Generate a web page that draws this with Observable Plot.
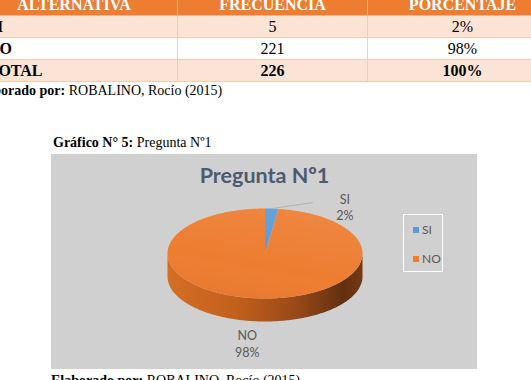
<!DOCTYPE html>
<html><head><meta charset="utf-8">
<script src="https://cdn.jsdelivr.net/npm/d3@7"></script>
<script src="https://cdn.jsdelivr.net/npm/@observablehq/plot@0.6"></script>
<style>
body{margin:0;background:#fff;}
#page{position:relative;width:531px;height:380px;overflow:hidden;font-family:"Liberation Serif","Times New Roman",serif;color:#000;}
#tbl{position:absolute;left:-30px;top:-11px;width:587px;border-collapse:collapse;table-layout:fixed;}
#tbl th{background:#ED7D31;color:#fff;font-size:16px;font-weight:bold;height:25px;line-height:20px;vertical-align:bottom;padding:0;border:1px solid #F4B183;}
#tbl td{height:21px;line-height:21px;font-size:16px;text-align:center;padding:0;border:1px solid #F8CBAD;}
#tbl tr.odd td{background:#FBE4D5;}
#tbl tr.even td{background:#fff;}
#tbl td.first{text-align:left;padding-left:17px;font-weight:bold;}
#tbl tr.total td{font-weight:bold;}
.cap{position:absolute;font-size:14px;white-space:nowrap;}
#chart{position:absolute;left:51px;top:154px;width:426px;height:215px;}
#legend{position:absolute;left:403px;top:214px;width:38px;height:56px;border:1.5px solid #fff;font-family:Lato,"Open Sans",sans-serif;font-size:12px;color:#595959;}
#legend .it{position:absolute;left:9px;display:flex;align-items:center;}
#legend .sw{width:6px;height:6px;margin-right:3px;}
</style></head>
<body><div id="page">
<table id="tbl"></table>
<div class="cap" style="left:-27px;top:83px;"><b>Elaborado por:</b> ROBALINO, Rocío (2015)</div>
<div class="cap" style="left:53px;top:135px;"><b>Gráfico N° 5:</b> Pregunta Nº1</div>
<div id="chart"></div>
<div id="legend"></div>
<div class="cap" style="left:51px;top:373px;"><b>Elaborado por:</b> ROBALINO, Rocío (2015)</div>
</div>
<script>
// ---- data ----
const headers = ["ALTERNATIVA", "FRECUENCIA", "PORCENTAJE"];
const categories = ["SI", "NO"];
const frequencies = [5, 221];
const percents = ["2%", "98%"];
const totalLabel = ["TOTAL", "226", "100%"];
const colors = ["#5B9BD5", "#ED7D31"];
const chartTitle = "Pregunta Nº1";

// ---- table ----
const tbl = d3.select("#tbl");
const cg = tbl.append("colgroup");
[207, 190, 190].forEach(w => cg.append("col").style("width", w + "px"));
tbl.append("tr").selectAll("th").data(headers).join("th").text(d => d);
categories.forEach((c, i) => {
  const tr = tbl.append("tr").attr("class", i % 2 === 0 ? "odd" : "even");
  tr.append("td").attr("class", "first").text(c);
  tr.append("td").text(frequencies[i]);
  tr.append("td").text(percents[i]);
});
const trT = tbl.append("tr").attr("class", "odd total");
totalLabel.forEach((t, i) => trT.append("td").attr("class", i === 0 ? "first" : null).text(t));

// ---- legend ----
const lg = d3.select("#legend");
categories.forEach((c, i) => {
  const it = lg.append("div").attr("class", "it").style("top", (i === 0 ? 7 : 36) + "px");
  it.append("div").attr("class", "sw").style("background", colors[i]);
  it.append("span").text(c);
});

// ---- pie geometry ----
const W = 426, H = 215, cx = 213.5, cy = 99, rx = 97.5, ry = 45, depthPx = 23;
const depth = depthPx / ry;
const rows = categories.map((c, i) => ({cat: c, freq: frequencies[i], pct: percents[i]}));
const arcs = d3.pie().sort(null).value(d => d.freq)(rows);
const step = Math.PI / 180;

function arcPoints(a0, a1, off) {
  const pts = [];
  const n = Math.max(2, Math.ceil((a1 - a0) / step));
  for (let k = 0; k <= n; k++) {
    const a = a0 + (a1 - a0) * k / n;
    pts.push({x: Math.sin(a), y: Math.cos(a) - off});
  }
  return pts;
}

const topPts = [];
arcs.forEach(a => {
  topPts.push({cat: a.data.cat, x: 0, y: 0});
  arcPoints(a.startAngle, a.endAngle, 0).forEach(p => topPts.push({cat: a.data.cat, ...p}));
});

const sidePts = [];
arcs.forEach(a => {
  const s = Math.max(a.startAngle, Math.PI / 2), e = Math.min(a.endAngle, 3 * Math.PI / 2);
  if (e <= s) return;
  const upper = arcPoints(s, e, 0), lower = arcPoints(s, e, depth).reverse();
  [...upper, ...lower].forEach(p => sidePts.push({cat: a.data.cat, ...p}));
});

const ellipsePts = arcPoints(0, 2 * Math.PI, 0);

const labels = arcs.map(a => {
  const m = (a.startAngle + a.endAngle) / 2;
  return {cat: a.data.cat, text: a.data.cat + "\n" + a.data.pct, x: Math.sin(m), y: Math.cos(m)};
});
const leader = labels.filter(d => d.cat === "SI").map(d => ({
  x1: d.x, y1: d.y, x2: d.x + 41 / rx, y2: d.y + 6 / ry
}));

const plot = Plot.plot({
  width: W, height: H,
  margin: 0,
  style: {background: "#D0D0D0", fontFamily: "Lato, 'Open Sans', sans-serif", overflow: "visible"},
  x: {domain: [-cx / rx, (W - cx) / rx], range: [0, W], axis: null},
  y: {domain: [-(H - cy) / ry, cy / ry], range: [H, 0], axis: null},
  color: {domain: categories, range: colors},
  marks: [
    Plot.line(sidePts, {x: "x", y: "y", z: "cat", fill: "url(#sideGrad)", stroke: "none"}),
    Plot.line(topPts, {x: "x", y: "y", z: "cat", fill: "cat", stroke: "none"}),
    Plot.line(ellipsePts, {x: "x", y: "y", fill: "url(#topShade)", stroke: "none"}),
    Plot.link(leader, {x1: "x1", y1: "y1", x2: "x2", y2: "y2", stroke: "#A8A8A8", strokeWidth: 0.8}),
    Plot.text(labels.filter(d => d.cat === "SI"), {x: "x", y: "y", text: "text", dx: 73, dy: -2, fill: "#595959", fontSize: 12.5, lineHeight: 1.35}),
    Plot.text(labels.filter(d => d.cat === "NO"), {x: "x", y: "y", text: "text", dx: -11, dy: 45, fill: "#595959", fontSize: 12.5, lineHeight: 1.35}),
    Plot.text([chartTitle], {frameAnchor: "top", text: d => d, dy: 13, lineAnchor: "top", fontSize: 21.5, fontWeight: "bold", fill: "#4E5A70"})
  ]
});

d3.select(plot).insert("defs", ":first-child").html(`
  <linearGradient id="sideGrad" x1="0" y1="0" x2="1" y2="0">
    <stop offset="0%" stop-color="#D46E25"/>
    <stop offset="35%" stop-color="#C2601D"/>
    <stop offset="65%" stop-color="#9A4A18"/>
    <stop offset="90%" stop-color="#633010"/>
    <stop offset="100%" stop-color="#743A14"/>
  </linearGradient>
  <linearGradient id="topShade" x1="0.7" y1="0" x2="0.3" y2="1">
    <stop offset="0%" stop-color="#ffffff" stop-opacity="0.08"/>
    <stop offset="60%" stop-color="#ffffff" stop-opacity="0"/>
    <stop offset="100%" stop-color="#000000" stop-opacity="0.03"/>
  </linearGradient>`);
document.getElementById("chart").appendChild(plot);
</script>
</body></html>
